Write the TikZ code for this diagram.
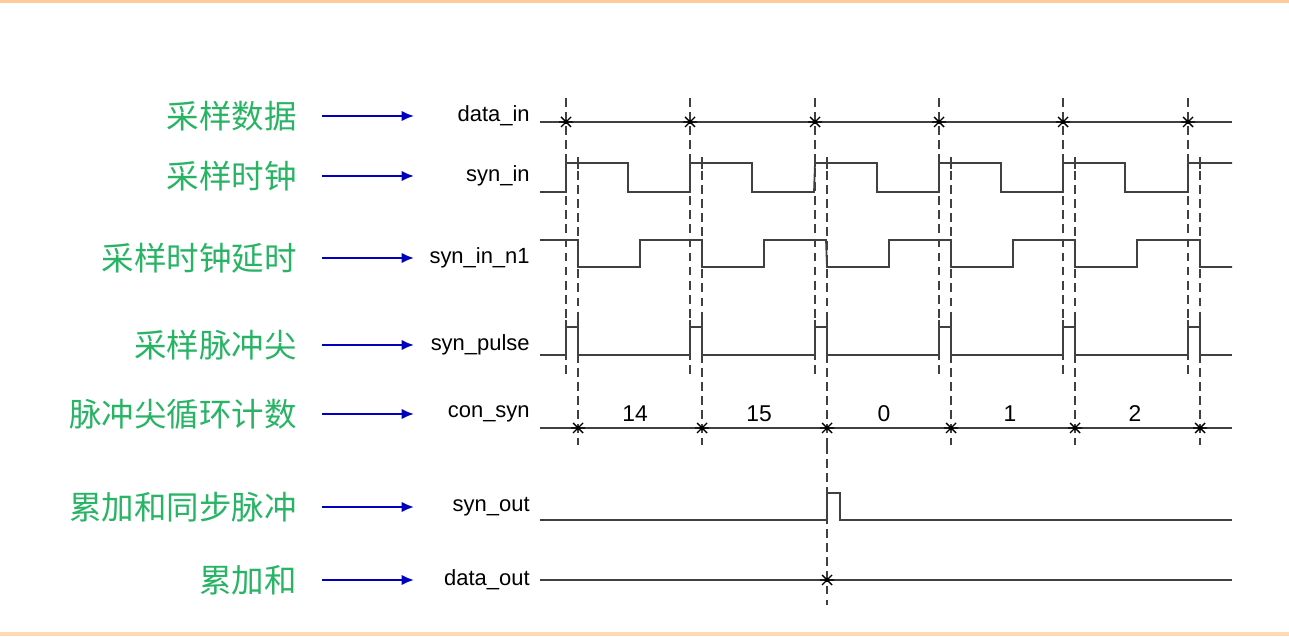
\documentclass[tikz,border=0pt]{standalone}
\usepackage{fontspec}
\usetikzlibrary{arrows.meta}
\setmainfont{Liberation Sans}
\newfontfamily\cjk{Noto Sans CJK SC}
\definecolor{lgreen}{RGB}{40,180,100}
\begin{document}
\begin{tikzpicture}[x=0.02cm,y=-0.02cm,
  lab/.style={font=\cjk\fontsize{18.5}{19}\selectfont, text=lgreen, anchor=east, inner sep=0},
  sig/.style={font=\fontsize{12.5}{14}\selectfont, anchor=east, inner sep=0},
  arr/.style={-{Latex[length=7pt,width=6pt]}, draw=blue!75!black, line width=1.2pt},
  wave/.style={line width=1pt, draw=black!75},
  dsh/.style={dash pattern=on 5pt off 3pt, line width=0.9pt, draw=black!75}]
\useasboundingbox (0,0) rectangle (1289,641);
\fill[orange!40] (0,0) rectangle (1289,3);
\fill[orange!30] (0,632) rectangle (1289,636);
\def\star#1#2{\draw[line width=0.8pt] (#1-7,#2) -- (#1+7,#2) (#1-5,#2-5) -- (#1+5,#2+5) (#1-5,#2+5) -- (#1+5,#2-5); \fill (#1,#2) circle (2.2);}
\foreach \t/\n/\y [count=\i] in {采样数据/data\_in/116, 采样时钟/syn\_in/176, 采样时钟延时/syn\_in\_n1/258, 采样脉冲尖/syn\_pulse/345, 脉冲尖循环计数/con\_syn/414, 累加和同步脉冲/syn\_out/507, 累加和/data\_out/580}{
  \node[lab] (l\i) at (297,\y) {\t};
  \coordinate (a\i) at (322,\y); \coordinate (b\i) at (414,\y);
  \draw[arr] (a\i) -- (b\i);
  \node[sig] (n\i) at (530,\y) {\n};
}
\foreach \x in {566,690,815,939,1063,1188} \draw[dsh] (\x,98) -- (\x,378);
\foreach \x in {578,702,827,951,1075,1200} \draw[dsh] (\x,157) -- (\x,445);
\draw[dsh] (827,445) -- (827,605);
\draw[wave] (540,122) -- (1232,122);
\foreach \x in {566,690,815,939,1063,1188} {\star{\x}{122}}
\draw[wave] (540,192) -- (566,192)
 \foreach \x in {566,690,815,939,1063} {-- (\x,163) -- (\x+62,163) -- (\x+62,192) -- (\x+124,192)} -- (1188,192) -- (1188,163) -- (1232,163);
\foreach \x in {578,702,827,951,1075,1200} \draw[wave] (\x,157) -- (\x,169);
\draw[wave] (540,240) -- (578,240)
 \foreach \x in {578,702,827,951,1075} {-- (\x,267) -- (\x+62,267) -- (\x+62,240) -- (\x+124,240)} -- (1200,240) -- (1200,267) -- (1232,267);
\draw[wave] (540,355) \foreach \x in {566,690,815,939,1063,1188} {-- (\x,355) -- (\x,327) -- (\x+12,327) -- (\x+12,355)} -- (1232,355);
\foreach \x in {566,690,815,939,1063,1188} \draw[wave] (\x,320) -- (\x,334) (\x+12,320) -- (\x+12,334);
\draw[wave] (540,428) -- (1232,428);
\foreach \x in {578,702,827,951,1075,1200} {\star{\x}{428}}
\foreach \v/\x in {14/635,15/759,0/884,1/1010,2/1135} \node[font=\fontsize{13}{14}\selectfont] (c\v) at (\x,414) {\v};
\draw[wave] (540,520) -- (827,520) -- (827,493) -- (840,493) -- (840,520) -- (1232,520);
\draw[wave] (540,580) -- (1232,580);
\star{827}{580}
\end{tikzpicture}
\end{document}
